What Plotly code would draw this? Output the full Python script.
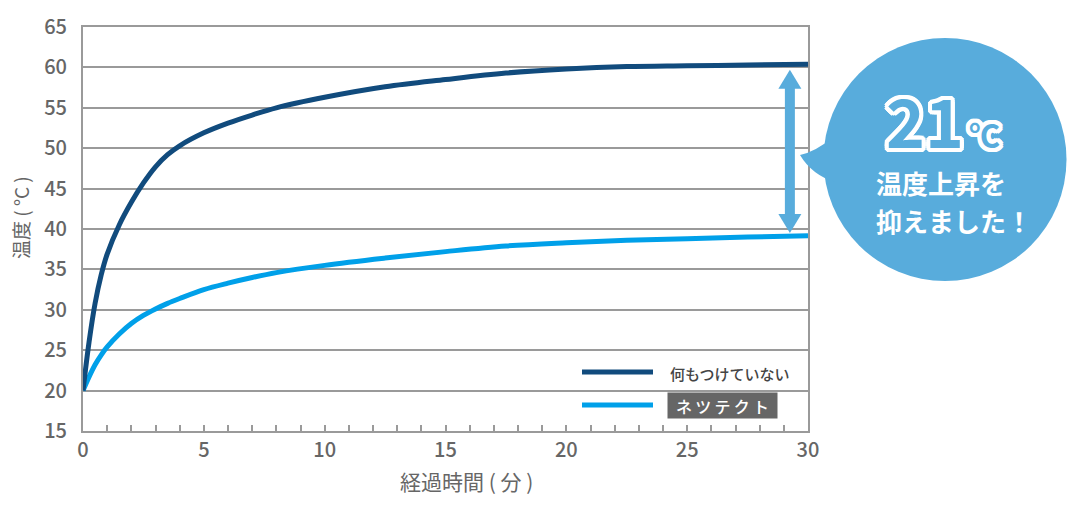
import plotly.graph_objects as go

# ---- data ----
time_min = [0, 0.25, 0.5, 0.75, 1, 1.5, 2, 2.5, 3, 3.5, 4, 5, 6, 7, 8, 10, 12.5, 15, 17.5, 20, 22.5, 25, 27.5, 30]
temp_none = [20, 26.0, 30.8, 34.3, 36.9, 40.5, 43.3, 45.7, 47.7, 49.2, 50.3, 51.9, 53.1, 54.1, 55.0, 56.3, 57.6, 58.5, 59.3, 59.8, 60.1, 60.2, 60.3, 60.4]
temp_nettect = [20, 21.7, 23.2, 24.4, 25.4, 27.0, 28.3, 29.3, 30.1, 30.8, 31.4, 32.5, 33.3, 34.0, 34.6, 35.5, 36.4, 37.2, 37.9, 38.3, 38.6, 38.8, 39.0, 39.15]
series_names = ["何もつけていない", "ネツテクト"]
x_ticks = [0, 5, 10, 15, 20, 25, 30]
y_ticks = [15, 20, 25, 30, 35, 40, 45, 50, 55, 60, 65]
x_title = "経過時間 ( 分 )"
y_title = "温度 ( °C )"
bubble_big = "21"
bubble_unit = "℃"
bubble_lines = ["温度上昇を", "抑えました！"]

DARK = "#114b7d"
LIGHT = "#00a0e9"
BUBBLE = "#58acdc"
GRID = "#9a9a9a"
TEXT = "#666666"
FONT = "Noto Sans CJK JP"

# plot-area geometry (pixels) for placing decorations in paper coordinates
W, H = 1080, 513
L, R, T, B = 83, 272, 27, 82
PW, PH = W - L - R, H - T - B


def px(x):
    return (x - L) / PW


def py(y):
    return (H - B - y) / PH


fig = go.Figure()
fig.add_trace(go.Scatter(x=time_min, y=temp_nettect, mode="lines", name=series_names[1],
                         line=dict(color=LIGHT, width=5, shape="spline", smoothing=1.0)))
fig.add_trace(go.Scatter(x=time_min, y=temp_none, mode="lines", name=series_names[0],
                         line=dict(color=DARK, width=5, shape="spline", smoothing=1.0)))

shapes = []
# double-headed arrow between final values
ax = time_min[-1] - 0.75
top_tip = temp_none[-1] - 0.7
bot_tip = temp_nettect[-1] + 0.35
hw = 11.5 / (PW / 30)     # head half-width in minutes
sw = 5 / (PW / 30)        # shaft half-width
hl = 19 / (PH / 50)       # head length in degrees
shapes.append(dict(type="rect", xref="x", yref="y", x0=ax - sw, x1=ax + sw,
                   y0=bot_tip + hl - 0.1, y1=top_tip - hl + 0.1,
                   fillcolor=BUBBLE, line=dict(width=0)))
shapes.append(dict(type="path", xref="x", yref="y",
                   path=f"M {ax} {top_tip} L {ax - hw} {top_tip - hl} L {ax + hw} {top_tip - hl} Z",
                   fillcolor=BUBBLE, line=dict(width=0)))
shapes.append(dict(type="path", xref="x", yref="y",
                   path=f"M {ax} {bot_tip} L {ax - hw} {bot_tip + hl} L {ax + hw} {bot_tip + hl} Z",
                   fillcolor=BUBBLE, line=dict(width=0)))

# speech bubble
cx, cy, rad = 945, 159.5, 121.5
shapes.append(dict(type="circle", xref="paper", yref="paper",
                   x0=px(cx - rad), x1=px(cx + rad), y0=py(cy + rad), y1=py(cy - rad),
                   fillcolor=BUBBLE, line=dict(width=0), layer="above"))
tip = (800, 155)
p1 = (835, 136)
p2 = (835, 182)
c1 = (815, 152)
c2 = (812, 175)
path = (f"M {px(tip[0])} {py(tip[1])} Q {px(c1[0])} {py(c1[1])} {px(p1[0])} {py(p1[1])} "
        f"L {px(p2[0])} {py(p2[1])} Q {px(c2[0])} {py(c2[1])} {px(tip[0])} {py(tip[1])} Z")
shapes.append(dict(type="path", xref="paper", yref="paper", path=path,
                   fillcolor=BUBBLE, line=dict(width=0), layer="above"))

# legend lines
shapes.append(dict(type="line", xref="paper", yref="paper", x0=px(582), x1=px(653),
                   y0=py(372), y1=py(372), line=dict(color=DARK, width=5)))
shapes.append(dict(type="line", xref="paper", yref="paper", x0=px(582), x1=px(653),
                   y0=py(405), y1=py(405), line=dict(color=LIGHT, width=5)))

outline = ", ".join(f"white {dx}px {dy}px 0px" for dx, dy in
                    [(3, 0), (-3, 0), (0, 3), (0, -3), (2, 2), (-2, 2), (2, -2), (-2, -2),
                     (4, 0), (-4, 0), (0, 4), (0, -4), (3, 3), (-3, 3), (3, -3), (-3, -3),
                     (4, 2), (-4, 2), (4, -2), (-4, -2), (2, 4), (-2, 4), (2, -4), (-2, -4)])

annotations = [
    # axis titles
    dict(xref="paper", yref="paper", x=px(466), y=py(481), xanchor="center", yanchor="middle",
         text=x_title, showarrow=False, font=dict(family=FONT, size=21, color=TEXT)),
    dict(xref="paper", yref="paper", x=px(20), y=py(218), xanchor="center", yanchor="middle",
         text=y_title, showarrow=False, textangle=-90, font=dict(family=FONT, size=19, color=TEXT)),
    # legend labels
    dict(xref="paper", yref="paper", x=px(668), y=py(373), xanchor="left", yanchor="middle",
         text=series_names[0], showarrow=False,
         font=dict(family=FONT, size=15, color="#444444", weight=500)),
    dict(xref="paper", yref="paper", x=px(722.5), y=py(405.5), xanchor="center", yanchor="middle",
         text="ネ ツ テ ク ト".replace(" ", "\u2009"), showarrow=False, bgcolor="#666666", borderpad=3,
         width=103, height=19,
         font=dict(family=FONT, size=16, color="white", weight=500)),
    # bubble text
    dict(xref="paper", yref="paper", x=px(925), y=py(119), xanchor="center", yanchor="middle",
         text=f"<b>{bubble_big}</b>", showarrow=False,
         font=dict(family=FONT, size=66, color=BUBBLE, shadow=outline, weight=900)),
    dict(xref="paper", yref="paper", x=px(985), y=py(133), xanchor="center", yanchor="middle",
         text=f"<b>{bubble_unit}</b>", showarrow=False,
         font=dict(family=FONT, size=31, color=BUBBLE, shadow=outline, weight=900)),
    dict(xref="paper", yref="paper", x=px(874), y=py(182), xanchor="left", yanchor="middle",
         text=f"<b>{bubble_lines[0]}</b>", showarrow=False,
         font=dict(family=FONT, size=26, color="white")),
    dict(xref="paper", yref="paper", x=px(874), y=py(220), xanchor="left", yanchor="middle",
         text=f"<b>{bubble_lines[1]}</b>", showarrow=False,
         font=dict(family=FONT, size=26, color="white")),
]

fig.update_layout(
    width=W, height=H,
    margin=dict(l=L, r=R, t=T, b=B, pad=0),
    paper_bgcolor="white", plot_bgcolor="white",
    showlegend=False,
    font=dict(family=FONT, color=TEXT),
    shapes=shapes,
    annotations=annotations,
)
fig.update_xaxes(
    range=[0, 30], tickvals=x_ticks, ticktext=[str(v) for v in x_ticks],
    showgrid=False, zeroline=False,
    showline=True, linecolor=GRID, linewidth=2, mirror=True,
    ticks="inside", ticklen=6, tickcolor=GRID, tickwidth=1.5,
    minor=dict(dtick=1, ticks="inside", ticklen=6, tickcolor=GRID, tickwidth=1.5, showgrid=False),
    tickfont=dict(family=FONT, size=20, color=TEXT, weight=500),
)
fig.update_yaxes(
    range=[15, 65], tickvals=y_ticks, ticktext=[str(v) for v in y_ticks],
    showgrid=True, gridcolor=GRID, gridwidth=1.5, zeroline=False,
    showline=True, linecolor=GRID, linewidth=2, mirror=True,
    ticks="", ticklabelstandoff=10,
    tickfont=dict(family=FONT, size=20, color=TEXT, weight=500),
)

fig.write_html("out.html")
